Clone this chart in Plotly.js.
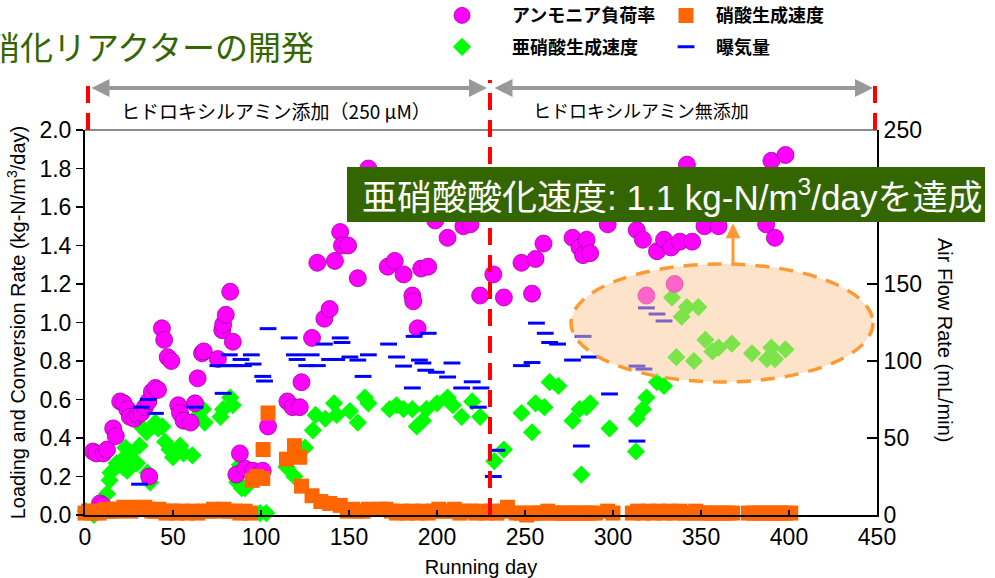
<!DOCTYPE html>
<html><head><meta charset="utf-8">
<script src="https://cdn.plot.ly/plotly-3.0.1.min.js"></script>
<style>html,body{margin:0;padding:0;background:#fff}#chart{width:995px;height:578px}</style>
</head><body><div id="chart"></div>
<script>
// アンモニア負荷率 (kg-N/m3/day)
const ammoniaDay = [4.5,6.5,8.5,10,10.5,12.5,16,17.5,20,22,24,25.5,28,30,32,34,36,36.5,38,40,41.5,43.7,45,47,49,53,54,56,60,62.5,64,66.5,67.5,75.5,78,78.5,80,82.5,84,86,88,91,95.5,101,104,115,118,122,123,129,132,136,139,142,145,146,149.5,155,161,172,176,181,186,186.5,189,191,195,199,206,215,219,224.5,232,238,248,254,256,260.5,277,281,283,285,287,297,313.5,317,319,325,329,333,335,338,342,345,352,360,387,390,392,398];
const ammoniaLoad = [0.33,0.32,0.06,0.05,0.32,0.34,0.45,0.41,0.59,0.58,0.55,0.51,0.50,0.52,0.53,0.56,0.59,0.20,0.64,0.66,0.65,0.97,0.91,0.82,0.80,0.57,0.53,0.49,0.48,0.58,0.71,0.84,0.85,0.81,0.96,0.99,1.04,1.16,0.90,0.21,0.32,0.24,0.23,0.23,0.46,0.59,0.56,0.56,0.69,0.92,1.31,1.02,1.07,1.32,1.47,1.40,1.40,1.23,1.80,1.29,1.32,1.25,1.14,1.11,0.97,1.28,1.29,1.53,1.44,1.50,1.51,1.14,1.25,1.13,1.31,1.15,1.33,1.41,1.44,1.39,1.35,1.43,1.36,1.51,1.48,1.43,1.14,1.37,1.43,1.39,1.20,1.42,1.82,1.42,1.50,1.50,1.51,1.84,1.44,1.87];

// 亜硝酸生成速度 (kg-N/m3/day)
const nitriteDay = [0.5,5,12.5,14,14.5,18,21.5,22.5,23,24,25.5,27.5,29.5,31,33,35,35.5,37,40,41.5,44,45.5,48,50,54,56,61,63.5,65,67,68,77,78.5,82.5,84,86.5,88,89,91,99.5,103,114.5,119,125,129.5,131,136.5,141.5,143,150.5,155,159,161,173,177,181,186,188.5,192,194,200,206,209,214,220,224.5,232.5,238,248,254,256,261,264,269,277,281,282,285,287,298,313,313.5,317,319,325,329,333.5,336,339,342,346,348.5,352.5,356.5,360,367.5,379,387.5,390,392,398];
const nitriteRate = [0.02,0.00,0.11,0.18,0.22,0.27,0.25,0.30,0.35,0.23,0.32,0.28,0.27,0.36,0.45,0.43,0.22,0.17,0.48,0.45,0.46,0.38,0.34,0.30,0.36,0.32,0.31,0.51,0.55,0.55,0.48,0.51,0.55,0.61,0.57,0.17,0.26,0.14,0.14,0.01,0.01,0.25,0.20,0.35,0.44,0.52,0.50,0.58,0.52,0.54,0.48,0.61,0.58,0.55,0.57,0.55,0.55,0.46,0.49,0.55,0.58,0.61,0.57,0.51,0.59,0.51,0.28,0.34,0.53,0.43,0.58,0.56,0.69,0.67,0.49,0.55,0.21,0.56,0.58,0.45,0.33,0.50,0.55,0.61,0.69,0.67,1.13,0.82,1.03,1.08,0.80,1.08,0.91,0.85,0.87,0.89,0.84,0.81,0.87,0.81,0.86];

// 硝酸生成速度 (kg-N/m3/day)
const nitrateDay = [0,2,4,6,8,10,12,14,16,18,20,22,24,26,28,30,32,34,36,38,40,42,44,46,48,50,52,55,58,61,64,67,70,73,76,79,82,85,88,91,94,95,97.5,101,101.2,104,114.5,119,122,123,129,134,139,145,149,152,155,158,161,168,171,174,177,180,183,186,189,192,195,198,201,204,207,210,213,216,219,222,225,228,231,234,237,240,245,248,251,254,257,260,263,266,269,272,275,278,281,284,287,290,297,300,311,314,317,320,323,326,329,332,335,338,341,344,347,350,353,356,359,362,365,368,377,380,383,386,389,392,395,398,401];
const nitrateRate = [0.01,0.02,0.01,0.02,0.01,0.02,0.03,0.02,0.03,0.02,0.03,0.04,0.03,0.02,0.03,0.04,0.03,0.04,0.03,0.02,0.02,0.03,0.02,0.01,0.02,0.02,0.01,0.02,0.01,0.02,0.01,0.02,0.02,0.03,0.02,0.03,0.02,0.02,0.01,0.02,0.01,0.18,0.20,0.19,0.34,0.53,0.29,0.36,0.30,0.15,0.10,0.07,0.06,0.05,0.02,0.03,0.02,0.02,0.03,0.03,0.03,0.02,0.01,0.02,0.01,0.02,0.01,0.02,0.01,0.02,0.03,0.02,0.02,0.03,0.01,0.02,0.02,0.01,0.02,0.01,0.02,0.01,0.02,0.04,0.01,0.01,0.00,0.01,0.01,0.01,0.02,0.01,0.01,0.01,0.01,0.01,0.01,0.01,0.01,0.01,0.02,0.01,0.01,0.02,0.01,0.02,0.01,0.02,0.01,0.02,0.01,0.02,0.01,0.01,0.02,0.01,0.01,0.01,0.01,0.01,0.01,0.01,0.01,0.01,0.01,0.01,0.01,0.01,0.01,0.01,0.01];

// 曝気量 (mL/min)
const airDay = [31,32,36,40,62.5,75.5,78.5,81,82,84.6,88.6,90,94.5,95.5,101,102,104,116,119,120.5,126,128.5,132,136,139,143,145,146,150.5,155,158,161,172.5,177,181,186,187,190,192,193.6,195,199.6,206,208.5,214,220,223.5,225,232,234,248,254,256.5,261.5,264,268.5,277,282,283,286.5,298,313.6,313.6,317.6,319,325,329];
const airFlow = [20,70,75,66,70,97,79,97,104,97,101,97,104,98,90,87,121,115,104,101,97,104,97,111,101,101,115,112,102.6,100.6,90,104,111,102.6,96.7,82.5,116,100.6,98.7,94,118,92.7,89.6,98.7,82.5,86.5,70,82.5,25,42,97,99,124.6,118,112,111,100.6,44.8,116,102.6,78.6,48,96.7,94.8,134.5,130.5,126];

const names = ['アンモニア負荷率','亜硝酸生成速度','硝酸生成速度','曝気量'];
const xTicks = [0,50,100,150,200,250,300,350,400,450];
const phaseLabels = ['ヒドロキシルアミン添加（250 μM）','ヒドロキシルアミン無添加'];
const highlightText = '亜硝酸酸化速度: 1.1 kg-N/m<sup>3</sup>/dayを達成';
const pageTitle = '硝化リアクターの開発';

const JP = '"Noto Sans CJK JP", "Noto Sans", sans-serif';
const LAT = '"Liberation Sans", Arial, "Noto Sans CJK JP", sans-serif';

const traces = [
  {x: nitriteDay, y: nitriteRate, name: names[1], type:'scatter', mode:'markers', legend:'legend', legendrank:2, legendgroup:'g2', cliponaxis:false,
   marker:{symbol:'diamond', size:14, color:'#00ff00', line:{width:0}}},
  {x: ammoniaDay, y: ammoniaLoad, name: names[0], type:'scatter', mode:'markers', legend:'legend', legendrank:1, legendgroup:'g1', cliponaxis:false,
   marker:{symbol:'circle', size:17, color:'#ff00ff', line:{width:0.8, color:'#a000a0'}}},
  {x: nitrateDay, y: nitrateRate, name: names[2], type:'scatter', mode:'markers', legend:'legend2', legendrank:1, legendgroup:'g3', cliponaxis:false,
   marker:{symbol:'square', size:15, color:'#ff6600', line:{width:0}}},
  {x: airDay, y: airFlow, name: names[3], type:'scatter', mode:'markers', legend:'legend2', legendrank:2, legendgroup:'g4', yaxis:'y2', cliponaxis:false,
   marker:{symbol:'line-ew', size:12, color:'#0000ff', line:{width:3, color:'#0000ff'}}}
];

const pxToDay = p => (p - 85) / 1.76;
const pxToPaperY = p => (515 - p) / 385;
const pxToPaperX = p => (p - 85) / 792;

const layout = {
  width: 995, height: 578,
  margin: {l:85, r:118, t:130, b:63, pad:0, autoexpand:false},
  paper_bgcolor:'#ffffff', plot_bgcolor:'#ffffff',
  font: {family: LAT, color:'#000000'},
  showlegend: true,
  xaxis: {range:[0,450], tickvals:xTicks, ticks:'inside', ticklen:5, tickwidth:1.5, tickcolor:'#000',
    showline:true, linecolor:'#000', linewidth:2, showgrid:false, zeroline:false,
    tickfont:{size:23, family:LAT}, title:{text:'Running day', font:{size:20, family:LAT}, standoff:11}},
  yaxis: {range:[0,2], dtick:0.2, tick0:0, tickformat:'.1f', ticks:'outside', ticklen:7, tickwidth:1.5, tickcolor:'#000',
    showline:true, linecolor:'#000', linewidth:2, showgrid:false, zeroline:false,
    tickfont:{size:23, family:LAT}, title:{text:'Loading and Conversion Rate (kg-N/m<sup>3</sup>/day)', font:{size:20, family:LAT}, standoff:8}},
  yaxis2: {overlaying:'y', side:'right', range:[0,250], dtick:50, tick0:0, ticks:'inside', ticklen:10, tickwidth:1.5, tickcolor:'#000',
    showline:true, linecolor:'#000', linewidth:2, showgrid:false, zeroline:false,
    tickfont:{size:23, family:LAT}},
  legend: {x:0.4129, xanchor:'left', y:1.345, yanchor:'top', bgcolor:'rgba(0,0,0,0)', borderwidth:0,
    font:{family:JP, size:18, weight:'bold', color:'#000'}, itemwidth:90, tracegroupgap:5, traceorder:'grouped'},
  legend2: {x:0.721, xanchor:'left', y:1.345, yanchor:'top', bgcolor:'rgba(0,0,0,0)', borderwidth:0,
    font:{family:JP, size:18, weight:'bold', color:'#000'}, itemwidth:50, tracegroupgap:5, traceorder:'grouped'},
  shapes: [
    {type:'line', xref:'paper', yref:'paper', x0:0, x1:1, y0:1, y1:1, line:{color:'#8c8c8c', width:2}, layer:'below'},
    {type:'line', xref:'x', yref:'paper', x0:pxToDay(490), x1:pxToDay(490), y0:0, y1:pxToPaperY(80), line:{color:'#ff0000', width:4, dash:'17px,10px'}, layer:'above'},
    {type:'line', xref:'x', yref:'paper', x0:pxToDay(88), x1:pxToDay(88), y0:1.0, y1:pxToPaperY(80), line:{color:'#ff0000', width:4, dash:'17px,10px'}, layer:'above'},
    {type:'line', xref:'x', yref:'paper', x0:pxToDay(875), x1:pxToDay(875), y0:1.0, y1:pxToPaperY(80), line:{color:'#ff0000', width:4, dash:'17px,10px'}, layer:'above'},
    {type:'circle', xref:'x', yref:'y', x0:pxToDay(571), x1:pxToDay(873), y0:0.691, y1:1.304,
      fillcolor:'rgba(250,200,148,0.5)', line:{color:'#ff9933', width:3.5, dash:'14px,10px'}, layer:'above'},
    {type:'rect', xref:'paper', yref:'paper', x0:pxToPaperX(347), x1:pxToPaperX(985), y0:pxToPaperY(222), y1:pxToPaperY(167),
      fillcolor:'#336600', line:{width:0}, layer:'above'}
  ],
  annotations: [
    {xref:'paper', yref:'paper', x:pxToPaperX(316), y:pxToPaperY(46), xanchor:'right', yanchor:'middle', showarrow:false,
      text: pageTitle, font:{family:JP, size:33, color:'#336600'}},
    {xref:'x', yref:'paper', x:pxToDay(487), y:pxToPaperY(88), axref:'x', ayref:'pixel', ax:pxToDay(90), ay:0,
      showarrow:true, arrowside:'end+start', arrowhead:2, startarrowhead:2, arrowsize:0.9, startarrowsize:0.9,
      arrowwidth:4, arrowcolor:'#999999', standoff:0, startstandoff:0, text:''},
    {xref:'x', yref:'paper', x:pxToDay(873), y:pxToPaperY(88), axref:'x', ayref:'pixel', ax:pxToDay(493), ay:0,
      showarrow:true, arrowside:'end+start', arrowhead:2, startarrowhead:2, arrowsize:0.9, startarrowsize:0.9,
      arrowwidth:4, arrowcolor:'#999999', standoff:0, startstandoff:0, text:''},
    {xref:'x', yref:'paper', x:pxToDay(276), y:pxToPaperY(110), xanchor:'center', yanchor:'middle', showarrow:false, text:phaseLabels[0],
      font:{family:JP, size:19, color:'#000'}},
    {xref:'x', yref:'paper', x:pxToDay(641), y:pxToPaperY(110), xanchor:'center', yanchor:'middle', showarrow:false, text:phaseLabels[1],
      font:{family:JP, size:18, color:'#000'}},
    {xref:'paper', yref:'paper', x:pxToPaperX(672), y:pxToPaperY(194.5), xanchor:'center', yanchor:'middle', showarrow:false, text:highlightText,
      font:{family:LAT, size:35, color:'#ffffff'}},
    {xref:'x', yref:'y', x:pxToDay(733), y:1.515, axref:'pixel', ayref:'pixel', ax:0, ay:42,
      showarrow:true, arrowhead:2, arrowsize:1, arrowwidth:3, arrowcolor:'#ff9933', standoff:0, text:''},
    {xref:'paper', yref:'paper', x:pxToPaperX(945), y:pxToPaperY(340), xanchor:'center', yanchor:'middle', showarrow:false, textangle:90,
      text:'Air Flow Rate (mL/min)', font:{family:LAT, size:20, color:'#000'}}
  ]
};

Plotly.newPlot('chart', traces, layout, {staticPlot:true, displayModeBar:false});
</script>
</body></html>
